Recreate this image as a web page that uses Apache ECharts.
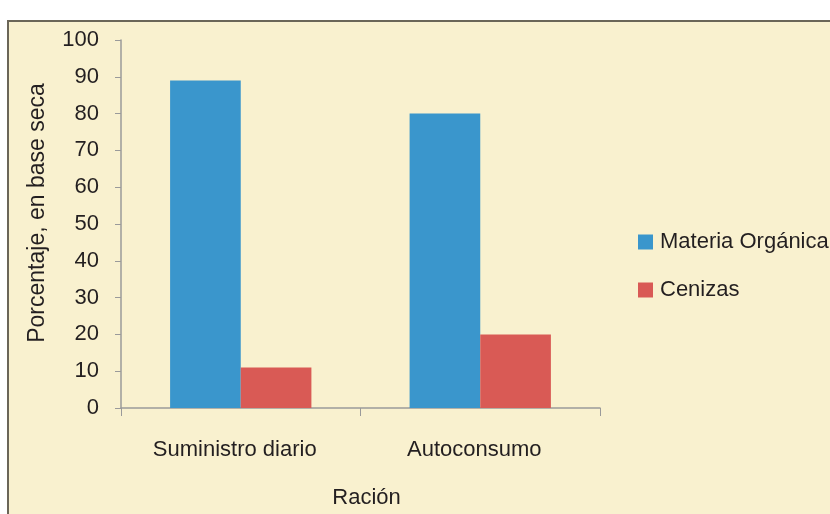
<!DOCTYPE html>
<html>
<head>
<meta charset="utf-8">
<script src="https://cdn.jsdelivr.net/npm/echarts@6/dist/echarts.min.js"></script>
<style>
  html, body { margin: 0; padding: 0; background: #fff; }
  #chart { width: 830px; height: 514px; }
</style>
</head>
<body>
<div id="chart"></div>
<script>
const categories = ['Suministro diario', 'Autoconsumo'];
const materiaOrganica = [89, 80];
const cenizas = [11, 20];
const yTicks = [0, 100, 10]; // min, max, interval

const textColor = '#231f20';
const axisColor = '#9a9a9a';
const fontFamily = '"Liberation Sans", Arial, sans-serif';

const chart = echarts.init(document.getElementById('chart'));

chart.setOption({
    backgroundColor: '#ffffff',
    textStyle: { fontFamily: fontFamily },
    graphic: [{
        type: 'rect',
        z: -10,
        shape: { x: 8, y: 21, width: 840, height: 520 },
        style: { fill: '#f9f1cf', stroke: '#6b6658', lineWidth: 2 }
    }],
    grid: { left: 121, right: 230, top: 40, bottom: 106 },
    legend: {
        orient: 'vertical',
        left: 633,
        top: 226,
        itemWidth: 15,
        itemHeight: 15,
        itemGap: 26,
        icon: 'rect',
        textStyle: { fontSize: 22, color: textColor, fontFamily: fontFamily, padding: [0, 0, 0, 2] },
        data: ['Materia Orgánica', 'Cenizas']
    },
    xAxis: {
        type: 'category',
        data: categories,
        name: 'Ración',
        nameLocation: 'middle',
        nameGap: 79,
        nameTextStyle: { fontSize: 22, color: textColor, padding: [0, 0, 0, 12] },
        axisLine: { lineStyle: { color: axisColor, width: 1.5 } },
        axisTick: { show: true, length: 8, lineStyle: { color: axisColor } },
        axisLabel: { fontSize: 22, color: textColor, margin: 31, padding: [0, 12, 0, 0] }
    },
    yAxis: {
        type: 'value',
        min: yTicks[0],
        max: yTicks[1],
        interval: yTicks[2],
        name: 'Porcentaje, en base seca',
        nameLocation: 'middle',
        nameGap: 72,
        nameTextStyle: { fontSize: 23, color: textColor, padding: [0, 0, 0, 22] },
        axisLine: { show: true, lineStyle: { color: axisColor, width: 1.5 } },
        axisTick: { show: true, length: 6, lineStyle: { color: axisColor } },
        splitLine: { show: false },
        axisLabel: { fontSize: 22, color: textColor, margin: 22 }
    },
    series: [
        {
            name: 'Materia Orgánica',
            type: 'bar',
            data: materiaOrganica,
            itemStyle: { color: '#3a96cc' },
            barGap: '0%',
            barCategoryGap: '41%'
        },
        {
            name: 'Cenizas',
            type: 'bar',
            data: cenizas,
            itemStyle: { color: '#d95a55' }
        }
    ]
});
</script>
</body>
</html>
